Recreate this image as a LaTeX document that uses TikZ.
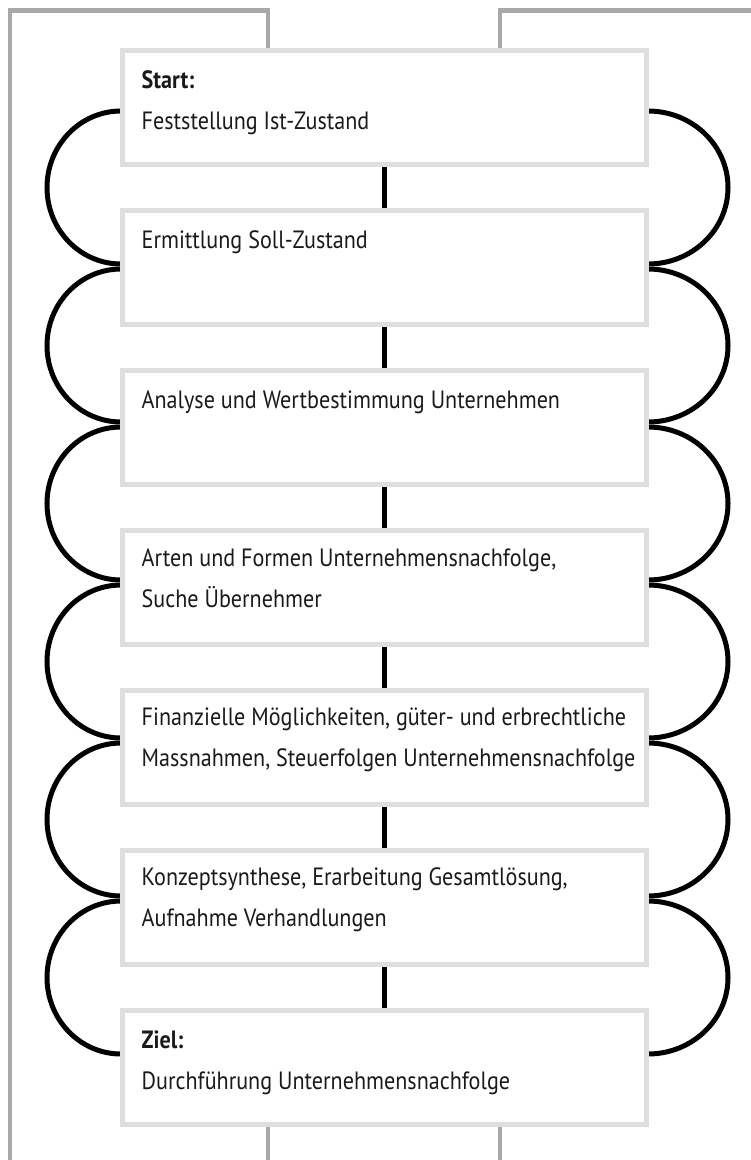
\documentclass[tikz,border=0pt]{standalone}
\usepackage{fontspec}
\setmainfont{PT Sans}[FakeStretch=0.885]
\begin{document}
\begin{tikzpicture}[x=1pt,y=-1pt,
  frame/.style={draw=framegray,line width=4.3pt},
  stepbox/.style={draw=boxgray,line width=5pt,fill=white,rectangle,minimum width=524pt,minimum height=114pt,inner sep=0pt},
  arcline/.style={draw=black,line width=5pt},
  link/.style={draw=black,line width=5pt},
  txt/.style={anchor=base west,inner sep=0pt,text=textblack,font=\fontsize{25}{30}\selectfont}]
\definecolor{framegray}{HTML}{A8A8A8}
\definecolor{boxgray}{HTML}{DEDEDE}
\definecolor{textblack}{HTML}{1A1A1A}
\useasboundingbox (0,0) rectangle (751,1160);
% box positions
\foreach \i in {1,...,7}{
  \coordinate (c\i) at (384.5,{107.5+160*(\i-1)});
}
% outer frames
\draw[frame] (10,1162) -- (10,10.5) -- (268,10.5) -- (268,60);
\draw[frame] (753,10.5) -- (500,10.5) -- (500,60);
\draw[frame] (268,1120) -- (268,1162);
\draw[frame] (500,1120) -- (500,1162);
% arcs
\foreach \k in {0,...,5}{
  \draw[arcline] (121,{111+158*\k}) arc[start angle=270,end angle=90,x radius=74,y radius=76.5];
  \draw[arcline] (648,{111+158*\k}) arc[start angle=-90,end angle=90,x radius=80,y radius=76.5];
}
% boxes
\foreach \i in {1,...,7}{
  \node[stepbox] (b\i) at (c\i) {};
}
% middle links
\foreach \i/\j in {1/2,2/3,3/4,4/5,5/6,6/7}{
  \draw[link] (b\i.south) -- (b\j.north);
}
% texts
\node[txt] (t1a) at (141.5,88) {\bfseries Start:};
\node[txt] (t1b) at (141.5,129) {Feststellung Ist-Zustand};
\node[txt] (t2a) at (141.5,248) {Ermittlung Soll-Zustand};
\node[txt] (t3a) at (141.5,408) {Analyse und Wertbestimmung Unternehmen};
\node[txt] (t4a) at (141.5,566) {Arten und Formen Unternehmensnachfolge,};
\node[txt] (t4b) at (141.5,607) {Suche Übernehmer};
\node[txt] (t5a) at (141.5,725) {Finanzielle Möglichkeiten, güter- und erbrechtliche};
\node[txt] (t5b) at (141.5,766) {Massnahmen, Steuerfolgen Unternehmensnachfolge};
\node[txt] (t6a) at (141.5,885) {Konzeptsynthese, Erarbeitung Gesamtlösung,};
\node[txt] (t6b) at (141.5,926) {Aufnahme Verhandlungen};
\node[txt] (t7a) at (141.5,1048) {\bfseries Ziel:};
\node[txt] (t7b) at (141.5,1089) {Durchführung Unternehmensnachfolge};
\end{tikzpicture}
\end{document}
